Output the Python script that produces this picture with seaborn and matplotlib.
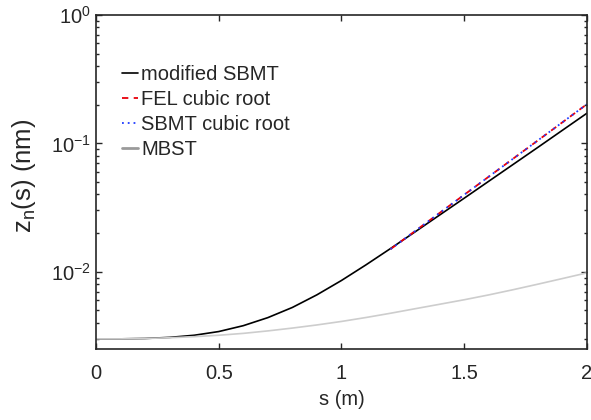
"""Beam size growth along the undulator: modified SBMT vs cubic-root fits and MBST."""
import matplotlib
matplotlib.use("Agg")
import matplotlib.pyplot as plt
import pandas as pd
import seaborn as sns

sns.set_style("ticks")
plt.rcParams["font.family"] = ["Liberation Sans", "DejaVu Sans"]
plt.rcParams["mathtext.fontset"] = "custom"
plt.rcParams["mathtext.rm"] = "Liberation Sans"
plt.rcParams["mathtext.it"] = "Liberation Sans:italic"
plt.rcParams["font.size"] = 14.5
plt.rcParams["axes.linewidth"] = 1.2
plt.rcParams["axes.edgecolor"] = "#262626"
plt.rcParams["xtick.direction"] = "in"
plt.rcParams["ytick.direction"] = "in"

# s (m) sample points, values in nm
s_full = [0.0, 0.1, 0.2, 0.3, 0.4, 0.5, 0.6, 0.7, 0.8, 0.9, 1.0,
          1.1, 1.2, 1.3, 1.4, 1.5, 1.6, 1.7, 1.8, 1.9, 2.0]
modified_sbmt = [0.00300, 0.00300, 0.00302, 0.00308, 0.00320, 0.00342, 0.00380,
                 0.00439, 0.00527, 0.00661, 0.00855, 0.01132, 0.01517, 0.02046,
                 0.02767, 0.03741, 0.05070, 0.06870, 0.09310, 0.12650, 0.17180]
mbst = [0.00300, 0.00300, 0.00302, 0.00306, 0.00312, 0.00320, 0.00331,
        0.00346, 0.00364, 0.00385, 0.00410, 0.00440, 0.00475, 0.00515,
        0.00558, 0.00605, 0.00660, 0.00725, 0.00800, 0.00885, 0.00980]

s_fit = [1.2, 1.3, 1.4, 1.5, 1.6, 1.7, 1.8, 1.9, 2.0]
fel_cubic = [0.0150, 0.02076, 0.02873, 0.03977, 0.05504, 0.07618, 0.1054, 0.1459, 0.2020]
sbmt_cubic = [0.0150, 0.02076, 0.02873, 0.03977, 0.05504, 0.07618, 0.1054, 0.1459, 0.2020]

full = pd.DataFrame({"s": s_full, "modified SBMT": modified_sbmt, "MBST": mbst})
fit = pd.DataFrame({"s": s_fit, "FEL cubic root": fel_cubic,
                    "SBMT cubic root": sbmt_cubic})

fig = plt.figure(figsize=(5.91, 4.2), dpi=100)
ax = fig.add_axes([0.1624, 0.169, 0.8308, 0.7953])

sns.lineplot(data=full, x="s", y="modified SBMT", ax=ax, color="black",
             linewidth=1.2, label="modified SBMT")
sns.lineplot(data=fit, x="s", y="FEL cubic root", ax=ax, color="#e8000b",
             linewidth=1.3, linestyle=(0, (3.5, 3)), label="FEL cubic root")
sns.lineplot(data=fit, x="s", y="SBMT cubic root", ax=ax, color="#1f3cff",
             linewidth=1.3, linestyle=(0, (1, 2.2)), label="SBMT cubic root")
sns.lineplot(data=full, x="s", y="MBST", ax=ax, color="#cdcdcd",
             linewidth=1.2, label="MBST")

ax.set_yscale("log")
ax.set_xlim(0, 2)
ax.set_ylim(0.0025, 1)
ax.set_xticks([0, 0.5, 1, 1.5, 2])
ax.set_xticklabels(["0", "0.5", "1", "1.5", "2"])
ax.tick_params(which="both", top=True, right=True, length=4, width=1.0,
               color="#262626")
ax.tick_params(which="minor", length=2.5)
ax.tick_params(axis="x", pad=11)
ax.set_xlabel("s (m)", labelpad=5)
ax.set_ylabel(r"z$_\mathregular{n}$(s) (nm)", fontsize=18.5)
ax.yaxis.set_label_coords(-0.118, 0.52)
for side in ax.spines.values():
    side.set_visible(True)

legend = ax.legend(loc="upper left", bbox_to_anchor=(0.053, 0.851),
                   borderaxespad=0, borderpad=0, frameon=False,
                   handlelength=0.8, handletextpad=0.15, labelspacing=0.3)
legend.get_lines()[3].set_color("#9a9a9a")
legend.get_lines()[3].set_linewidth(2.0)

fig.savefig("out.png", dpi=100)
